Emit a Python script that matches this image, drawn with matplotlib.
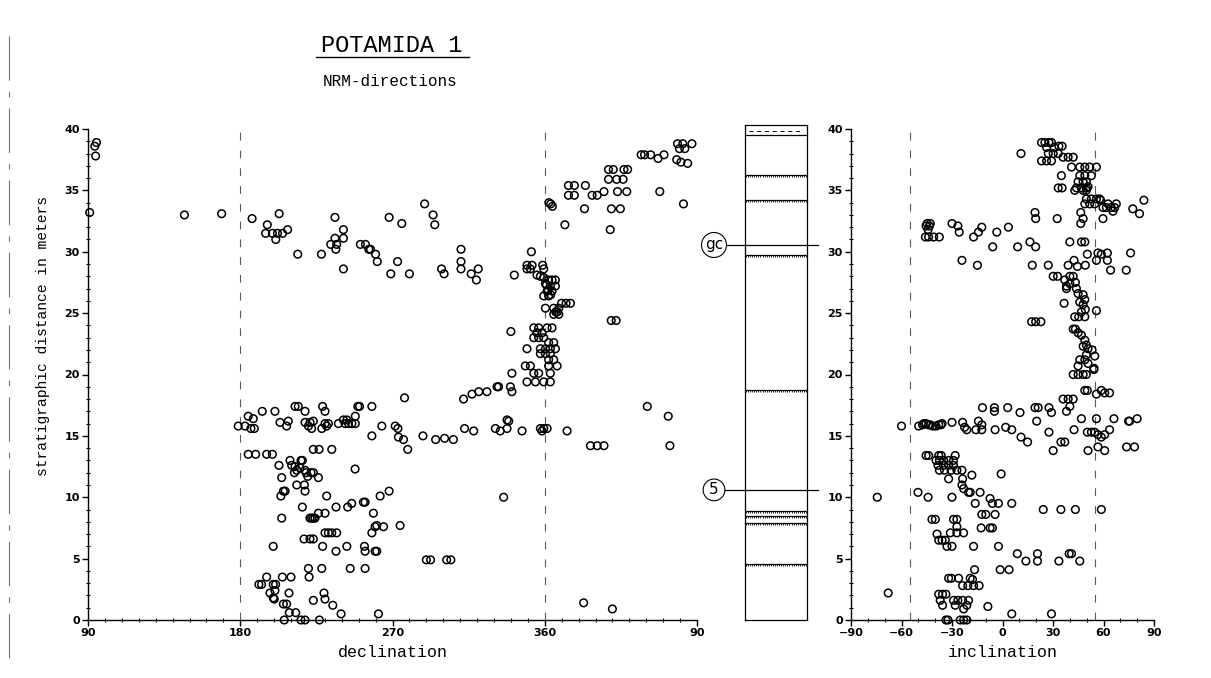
import matplotlib.pyplot as plt
import numpy as np
from matplotlib.lines import Line2D
from matplotlib.ticker import MultipleLocator

# NRM directions: (stratigraphic height in m, declination in degrees)
decl_obs = [
    (38.9, 95.0), (38.6, 94.0), (37.8, 94.5), (33.2, 91.0), (33.0, 147.0), (33.1, 169.0),
    # upper band 28-34 m
    (32.7, 187.0), (32.2, 196.0), (31.5, 195.0), (31.5, 199.0), (31.5, 202.0), (31.5, 205.0),
    (31.0, 201.0), (33.1, 203.0), (31.8, 208.0), (29.8, 214.0), (29.8, 228.0), (32.8, 236.0),
    (31.8, 241.0), (31.1, 241.0), (31.1, 236.0), (30.6, 233.5), (30.6, 237.0), (30.2, 236.5),
    (28.6, 241.0), (30.6, 251.0), (30.6, 254.0), (30.2, 256.0), (30.2, 257.0), (29.8, 260.0),
    (29.2, 261.0), (32.8, 268.0), (32.3, 275.5), (33.9, 289.0), (33.0, 294.0), (32.2, 295.0),
    (28.2, 269.0), (28.2, 280.0), (29.2, 273.0), (28.6, 299.0), (28.2, 300.5), (30.2, 310.5),
    (29.2, 310.5), (28.6, 310.5), (28.2, 316.5), (27.7, 319.6), (28.6, 320.7),
    # cluster around 360
    (30.0, 352.1), (28.9, 349.5), (28.9, 352.5), (28.9, 358.8), (28.6, 349.5), (28.6, 351.5),
    (28.6, 359.4), (28.1, 342.0), (28.1, 355.4), (28.0, 357.4), (27.9, 359.4), (27.7, 2.3),
    (27.7, 4.3), (27.7, 6.3), (27.4, 0.4), (27.2, 3.3), (27.2, 6.3), (26.8, 1.4), (26.8, 4.3),
    (26.4, 359.4), (26.4, 2.3), (26.9, 2.0), (26.5, 3.5), (27.3, 1.0),
    (25.4, 0.4), (25.4, 5.3), (25.4, 8.3), (25.8, 9.9), (25.8, 12.6), (25.8, 15.2),
    (24.9, 5.3), (24.9, 8.3), (25.1, 6.5), (25.1, 7.5), (24.4, 39.3), (24.4, 42.2), (23.5, 340.0),
    (23.8, 353.5), (23.8, 356.4), (23.8, 1.4), (23.8, 4.3), (23.4, 355.4), (23.4, 358.4),
    (23.0, 353.5), (23.0, 356.4), (23.0, 359.4), (22.6, 2.3), (22.6, 5.3), (22.1, 357.4),
    (22.1, 0.4), (22.1, 3.3), (22.1, 6.3), (22.1, 349.5), (21.7, 357.4), (21.7, 0.4), (21.7, 3.3),
    (21.2, 2.3), (21.2, 5.3), (20.7, 7.3), (20.7, 2.3), (20.7, 348.5), (20.7, 351.5),
    (20.1, 353.5), (20.1, 356.4), (20.1, 3.3), (19.4, 349.5), (19.4, 354.5), (19.4, 359.4),
    (19.4, 3.3), (20.1, 340.6), (19.0, 331.8), (19.0, 332.7), (19.0, 339.7), (18.6, 340.6),
    (18.6, 321.0), (18.6, 325.8), (18.0, 312.0), (18.4, 317.0), (17.4, 60.6), (16.6, 73.0),
    (16.3, 337.7), (16.2, 338.7), (15.6, 330.8), (15.4, 333.7), (15.6, 337.7), (15.4, 346.6),
    (15.6, 357.4), (15.6, 359.4), (15.6, 1.4), (15.4, 358.4), (15.4, 13.2),
    (14.2, 27.0), (14.2, 31.0), (14.2, 35.0), (14.2, 74.0), (10.0, 335.7), (1.4, 23.0), (0.9, 40.0),
    # upper right 33-39 m
    (34.0, 2.4), (33.9, 3.5), (33.7, 4.5), (32.2, 11.9), (35.4, 14.0), (35.4, 17.5), (34.6, 14.0),
    (34.6, 17.5), (35.4, 24.0), (33.5, 23.5), (34.6, 28.0), (34.6, 31.0), (34.9, 35.0),
    (36.7, 37.7), (36.7, 40.5), (36.7, 46.8), (36.7, 49.0), (35.9, 37.7), (35.9, 42.5),
    (35.9, 46.3), (34.9, 43.0), (34.9, 48.5), (33.5, 39.4), (33.5, 44.7), (31.8, 38.7),
    (37.9, 57.0), (37.9, 59.0), (37.9, 62.6), (37.6, 67.0), (37.9, 70.5), (34.9, 68.0),
    (38.8, 78.5), (38.8, 81.6), (38.8, 87.0), (38.4, 79.6), (38.4, 82.8), (37.5, 78.0),
    (37.3, 80.5), (37.2, 84.5), (33.9, 82.0),
    # lower band 14-18 m
    (18.1, 277.1), (17.4, 212.4), (17.4, 214.3), (17.4, 228.7), (17.4, 249.5), (17.4, 250.5),
    (17.4, 257.8), (16.6, 184.7), (17.0, 193.0), (17.0, 200.5), (16.4, 187.7), (17.0, 218.3),
    (17.0, 230.1), (15.8, 178.8), (15.8, 182.8), (15.6, 186.3), (15.6, 188.3), (16.1, 203.5),
    (16.2, 208.4), (15.8, 207.4), (16.1, 218.3), (16.1, 221.3), (16.2, 223.2), (15.8, 220.3),
    (15.6, 222.2), (15.6, 228.2), (16.0, 230.1), (16.0, 232.1), (15.8, 231.1), (16.0, 238.0),
    (16.3, 241.0), (16.0, 242.0), (16.3, 243.0), (16.0, 244.0), (16.0, 246.0), (16.0, 248.0),
    (16.6, 248.0), (15.0, 257.8), (15.8, 263.7), (15.8, 271.6), (15.6, 273.2), (14.9, 273.5),
    (14.7, 276.5), (13.9, 279.0), (15.0, 288.0), (14.7, 295.5), (14.8, 300.8), (14.7, 306.0),
    (15.6, 312.6), (15.4, 318.0),
    # 0-14 m
    (13.5, 184.7), (13.5, 189.1), (13.5, 195.6), (13.5, 199.0), (13.9, 223.2), (13.9, 226.6),
    (13.9, 234.1), (13.0, 209.4), (13.0, 215.9), (13.0, 216.7), (12.6, 210.4), (12.5, 212.4),
    (12.2, 213.4), (12.4, 215.3), (12.2, 218.3), (12.0, 212.0), (12.0, 218.9), (12.0, 221.8),
    (11.7, 219.9), (12.0, 223.2), (11.6, 226.2), (12.6, 202.9), (11.6, 204.5), (11.0, 213.4),
    (11.0, 217.9), (10.5, 218.3), (10.5, 205.5), (10.1, 204.0), (10.5, 206.5), (12.3, 247.9),
    (10.1, 231.1), (10.1, 262.7), (10.5, 268.0), (9.2, 216.7), (8.7, 226.2), (8.7, 230.1),
    (9.2, 236.6), (9.2, 243.5), (9.5, 245.9), (9.6, 252.8), (9.6, 253.8), (8.7, 258.7),
    (8.3, 204.5), (8.3, 221.2), (8.3, 222.2), (8.3, 223.2), (8.3, 224.2), (7.6, 259.7),
    (7.7, 260.7), (7.6, 264.7), (7.7, 274.5), (7.1, 257.8), (7.1, 230.1), (7.1, 232.1),
    (7.1, 234.1), (7.1, 237.0), (6.6, 217.7), (6.6, 221.2), (6.6, 223.2), (6.0, 199.5),
    (6.0, 228.7), (5.6, 236.6), (6.0, 243.0), (6.0, 253.4), (5.6, 253.8), (5.6, 259.7),
    (5.6, 260.7), (4.9, 290.0), (4.9, 292.5), (4.9, 302.0), (4.9, 304.5),
    (4.2, 220.3), (4.2, 228.2), (4.2, 245.0), (4.2, 253.8), (3.5, 220.7), (3.5, 195.6),
    (3.5, 204.9), (3.5, 210.0), (2.9, 191.0), (2.9, 192.6), (2.9, 199.5), (2.9, 200.9),
    (2.4, 200.5), (2.2, 197.6), (1.8, 199.5), (1.7, 200.1), (2.2, 208.8), (1.6, 223.2),
    (2.2, 229.5), (1.7, 230.1), (1.2, 234.7), (1.3, 205.5), (1.3, 207.4), (0.6, 209.0),
    (0.6, 212.8), (0.5, 239.6), (0.5, 261.7), (0.0, 206.0), (0.0, 215.9), (0.0, 218.3), (0.0, 226.8),
]

# NRM directions: (stratigraphic height in m, inclination in degrees)
incl_obs = [
    (38.9, 23.2), (38.9, 25.2), (38.9, 27.6), (38.9, 29.1), (38.5, 26.2), (38.5, 30.7),
    (38.6, 33.5), (38.6, 35.4), (38.0, 27.2), (38.0, 30.1), (38.0, 33.1), (37.4, 23.2),
    (37.4, 26.2), (37.4, 29.1), (37.7, 36.0), (37.7, 39.0), (37.7, 42.0), (38.0, 11.0),
    (36.9, 41.0), (36.9, 45.9), (36.9, 48.9), (36.9, 51.8), (36.9, 55.8), (36.2, 35.0),
    (36.2, 45.9), (36.2, 48.9), (36.2, 52.8), (35.7, 44.9), (35.7, 47.9), (35.7, 49.8),
    (35.2, 43.9), (35.2, 46.9), (35.2, 49.8), (35.2, 33.1), (35.2, 35.4), (35.0, 42.9),
    (35.0, 49.8), (35.3, 50.8), (35.0, 47.9),
    (34.3, 49.8), (34.3, 52.8), (34.3, 55.8), (34.3, 57.7), (33.9, 48.9), (33.9, 51.8),
    (33.9, 54.8), (34.2, 58.3), (33.9, 62.7), (33.6, 59.7), (33.6, 61.7), (33.6, 64.6),
    (33.6, 66.6), (33.9, 67.6), (33.3, 65.6), (33.5, 77.4), (33.1, 81.4), (34.2, 84.0),
    (32.7, 59.7), (33.2, 19.3), (32.7, 19.7), (32.7, 32.5), (33.2, 46.5), (32.7, 47.9),
    (32.3, 46.5),
    (32.3, -44.8), (32.3, -42.9), (32.1, -45.4), (32.1, -43.4), (31.8, -44.2), (31.2, -45.8),
    (31.2, -43.9), (31.2, -40.9), (31.2, -37.5), (32.3, -30.0), (32.1, -26.5), (31.6, -25.7),
    (31.2, -17.2), (31.6, -14.3), (32.0, -12.3), (31.6, -3.4), (32.0, 3.5), (30.4, -5.8),
    (30.4, 9.0), (30.8, 16.3), (30.4, 19.7),
    (30.8, 40.0), (30.8, 46.9), (30.8, 48.9), (29.8, 50.4), (29.9, 56.7), (29.8, 58.7),
    (29.9, 62.3), (29.9, 76.1), (29.3, 55.8), (29.3, 62.3), (28.5, 64.2), (28.5, 73.5),
    (28.9, 39.0), (29.3, 42.5), (28.8, 44.5), (28.9, 49.2), (28.9, 17.7), (28.9, 27.2),
    (28.9, -14.9), (29.3, -24.1), (28.0, 30.1), (28.0, 32.7), (27.7, 37.0), (28.0, 40.0),
    (28.0, 42.0), (27.2, 38.0), (27.4, 40.0), (27.5, 43.3), (27.0, 38.0), (27.0, 43.9),
    (26.6, 44.9), (26.5, 47.9), (26.1, 48.9), (25.9, 45.9), (25.7, 47.9), (25.3, 49.2),
    (25.1, 46.9), (24.7, 45.3), (24.7, 42.9), (24.7, 48.9), (25.8, 36.6), (25.2, 55.8),
    (24.3, 17.3), (24.3, 19.7), (24.3, 22.8),
    (23.7, 42.0), (23.7, 43.3), (23.4, 44.9), (23.2, 46.9), (22.8, 48.9), (22.4, 49.8),
    (22.3, 47.9), (22.1, 50.8), (22.0, 53.2), (21.6, 49.8), (21.5, 54.8), (21.2, 45.9),
    (21.2, 48.9), (20.9, 50.8), (20.7, 44.9), (20.5, 54.4), (20.0, 42.0), (20.0, 44.9),
    (20.0, 47.9), (20.0, 49.8), (20.4, 54.2), (18.7, 48.9), (18.7, 50.4), (18.4, 55.8),
    (18.7, 58.7), (18.5, 60.7), (18.5, 63.6), (18.0, 36.0), (18.0, 39.0), (18.0, 42.0),
    (17.4, 40.0),
    (17.3, -11.9), (17.3, -4.8), (17.0, -4.8), (17.3, 3.1), (16.9, 10.4), (17.3, 19.3),
    (17.3, 21.2), (17.3, 27.6), (16.9, 29.1), (17.0, 38.0), (16.4, 46.9), (16.4, 55.8),
    (16.4, 66.2), (16.2, 75.5), (16.4, 80.0), (16.2, 20.3),
    (15.8, -60.0), (15.8, -49.8), (16.0, -46.8), (16.0, -45.4), (15.8, -41.5), (15.9, -37.9),
    (16.0, -35.9), (16.1, -30.0), (16.1, -23.7), (15.7, -22.5), (15.5, -21.2), (15.5, -15.8),
    (16.2, -14.3), (15.9, -12.3), (15.5, -12.3), (15.5, -4.4), (15.7, 1.9), (15.5, 5.5),
    (14.9, 11.0), (14.5, 14.9), (15.3, 27.6), (14.5, 34.7), (14.5, 37.0), (13.8, 30.1),
    (15.5, 42.5), (15.3, 50.4), (15.3, 52.8), (15.3, 54.8), (15.1, 56.7), (15.1, 60.7),
    (14.9, 58.7), (15.5, 63.6), (13.8, 50.8), (14.1, 56.7), (13.8, 60.7), (14.1, 73.7),
    (14.1, 78.4), (16.2, 74.9), (15.9, -44.0), (15.9, -43.0), (15.8, -39.5), (15.9, -47.5),
    (15.9, -36.5),
    (13.4, -45.4), (13.4, -43.9), (13.4, -37.9), (13.4, -36.4), (13.4, -28.1), (13.0, -39.5),
    (13.0, -37.5), (13.0, -35.0), (13.0, -32.0), (13.0, -29.1), (12.6, -38.3), (12.6, -35.0),
    (12.6, -32.0), (12.6, -29.1), (12.2, -37.5), (12.2, -34.5), (12.2, -30.5), (12.2, -27.1),
    (12.2, -24.1), (11.5, -32.0), (11.5, -23.7), (11.8, -18.2), (11.9, -0.8),
    (11.0, -24.1), (10.7, -23.1), (10.4, -20.2), (10.4, -19.2), (10.4, -13.3), (9.5, -16.2),
    (9.9, -7.4), (9.5, -6.0), (9.5, -2.4), (9.5, 5.5), (10.4, -50.2), (10.0, -44.2),
    (10.0, -30.0), (10.0, -74.4), (9.0, 24.2), (9.0, 34.7), (9.0, 43.3), (9.0, 58.7),
    (8.6, -12.3), (8.6, -9.9), (8.6, -4.4), (8.2, -41.9), (8.2, -39.9), (8.2, -29.1),
    (8.2, -27.1), (7.6, -27.1), (7.5, -12.7), (7.5, -7.4), (7.5, -6.0), (7.0, -38.9),
    (6.5, -37.9), (6.5, -35.9), (6.5, -34.0), (6.0, -33.0), (6.0, -30.0), (7.1, -31.0),
    (7.1, -27.1), (7.1, -23.1), (6.0, -17.2), (6.0, -2.4),
    (5.4, 8.8), (4.8, 13.9), (5.4, 20.8), (4.8, 20.8), (4.8, 33.5), (5.4, 39.6), (5.4, 41.0),
    (4.8, 45.9), (4.1, -16.6), (4.1, -1.4), (4.1, 3.9),
    (3.4, -32.0), (3.4, -30.4), (3.4, -26.1), (3.3, -17.8), (2.8, -23.7), (2.8, -20.6),
    (2.8, -17.2), (2.8, -13.9), (3.4, -19.2), (2.2, -67.9),
    (2.1, -37.9), (2.1, -35.6), (2.1, -33.6), (1.6, -37.0), (1.2, -35.6), (1.6, -29.1),
    (1.6, -26.5), (1.6, -23.7), (1.6, -20.2), (1.2, -28.1), (0.9, -23.1), (1.2, -21.2),
    (1.1, -8.7), (0.5, 5.5), (0.5, 29.1),
    (0.0, -33.6), (0.0, -32.4), (0.0, -25.1), (0.0, -23.1), (0.0, -21.2),
]

decl_ticks = [90, 180, 270, 360, 450]
decl_ticklabels = ['90', '180', '270', '360', '90']
incl_ticks = [-90, -60, -30, 0, 30, 60, 90]
incl_ticklabels = ['\u221290', '\u221260', '\u221230', '0', '30', '60', '90']
decl_ref = [180, 360]
incl_ref = [-55, 55]

# lithological column (heights in m)
col_top = 40.35
hatched_levels = [4.55, 7.9, 8.45, 8.9, 18.75, 29.75, 34.25, 36.25]
plain_levels = [39.55]
dashed_levels = [39.85]
marker_names = ['5', 'gc']
marker_levels = [10.6, 30.55]

# fonts / style
plt.rcParams['font.family'] = ['Liberation Mono', 'DejaVu Sans']
tick_font = dict(family='DejaVu Sans', weight='bold', size=8)

W, H = 1211, 678
fig = plt.figure(figsize=(W / 100, H / 100), dpi=100)
bottom, height = (H - 620) / H, 491 / H

ax_d = fig.add_axes([88 / W, bottom, 609 / W, height])
ax_c = fig.add_axes([700 / W, bottom, 130 / W, height])
ax_i = fig.add_axes([851 / W, bottom, 303 / W, height])

dh = np.array([p[0] for p in decl_obs])
dd = np.array([p[1] for p in decl_obs])
dx = np.where(dd < 90, dd + 360, dd)   # axis runs 90 -> 450 (=90)
ih = np.array([p[0] for p in incl_obs])
ii = np.array([p[1] for p in incl_obs])

mk = dict(s=30, facecolors='none', edgecolors='black', linewidths=1.1, clip_on=False, zorder=3)
ax_d.scatter(dx, dh, **mk)
ax_i.scatter(ii, ih, **mk)

for ax, refs in ((ax_d, decl_ref), (ax_i, incl_ref)):
    for r in refs:
        ax.axvline(r, color='0.35', lw=0.8, ls=(0, (7, 9)), zorder=1)
    ax.set_ylim(0, 40)
    for s in ('top', 'right'):
        ax.spines[s].set_visible(False)
    for s in ('left', 'bottom'):
        ax.spines[s].set_linewidth(1.0)
    ax.yaxis.set_major_locator(MultipleLocator(5))
    ax.yaxis.set_minor_locator(MultipleLocator(1))
    ax.tick_params(which='major', direction='out', length=4, width=1, pad=2)
    ax.tick_params(which='minor', direction='inout', length=3, width=0.8)

ax_d.set_xlim(90, 450)
ax_d.set_xticks(decl_ticks, decl_ticklabels)
ax_d.xaxis.set_minor_locator(MultipleLocator(10))
ax_i.set_xlim(-90, 90)
ax_i.set_xticks(incl_ticks, incl_ticklabels)
ax_i.xaxis.set_minor_locator(MultipleLocator(10))
for ax in (ax_d, ax_i):
    for lab in ax.get_xticklabels() + ax.get_yticklabels():
        lab.set(**tick_font)

ax_d.set_xlabel('declination', fontsize=12)
ax_d.xaxis.set_label_coords(0.5, -0.05)
ax_i.set_xlabel('inclination', fontsize=12)
ax_i.xaxis.set_label_coords(0.5, -0.05)
ax_d.set_ylabel('stratigraphic distance in meters', fontsize=10.5)
ax_d.yaxis.set_label_coords(-0.062, 0.578)

# column
ax_c.set_xlim(0, 130)
ax_c.set_ylim(0, 40)
ax_c.axis('off')
cl, cr = 45, 107
lk = dict(color='black', lw=0.9, clip_on=False)
ax_c.plot([cl, cl], [0, col_top], **lk)
ax_c.plot([cr, cr], [0, col_top], **lk)
ax_c.plot([cl, cr], [0, 0], **lk)
ax_c.plot([cl, cr], [col_top, col_top], **lk)
for lv in plain_levels:
    ax_c.plot([cl, cr], [lv, lv], **lk)
for lv in dashed_levels:
    ax_c.plot([cl + 4, cr - 4], [lv, lv], color='black', lw=0.7, ls=(0, (4, 4)), clip_on=False)
hx = np.linspace(cl + 1, cr - 1, 30)
for lv in hatched_levels:
    ax_c.plot([cl, cr], [lv, lv], **lk)
    ax_c.plot(hx, np.full(hx.size, lv - 0.09), ls='none', marker='|', ms=1.8,
              mew=0.6, color='black', clip_on=False)
for name, lv in zip(marker_names, marker_levels):
    ax_c.plot([24, 118], [lv, lv], **lk)
    ax_c.text(14, lv, name, ha='center', va='center', fontsize=11, family='DejaVu Sans',
              bbox=dict(boxstyle='circle,pad=0.22', fc='white', ec='black', lw=0.8))

# title
fig.text(392 / W, 1 - 45 / H, 'POTAMIDA 1', ha='center', va='center', fontsize=17)
fig.add_artist(Line2D([316 / W, 469 / W], [1 - 57 / H] * 2, color='black', lw=1.0))
fig.text(390 / W, 1 - 81 / H, 'NRM-directions', ha='center', va='center', fontsize=11.5)

# scan edge
fig.add_artist(Line2D([9 / W] * 2, [0.03, 0.96], color='0.45', lw=0.8, ls=(0, (40, 10, 5, 10))))

fig.savefig('out.png', dpi=100)
